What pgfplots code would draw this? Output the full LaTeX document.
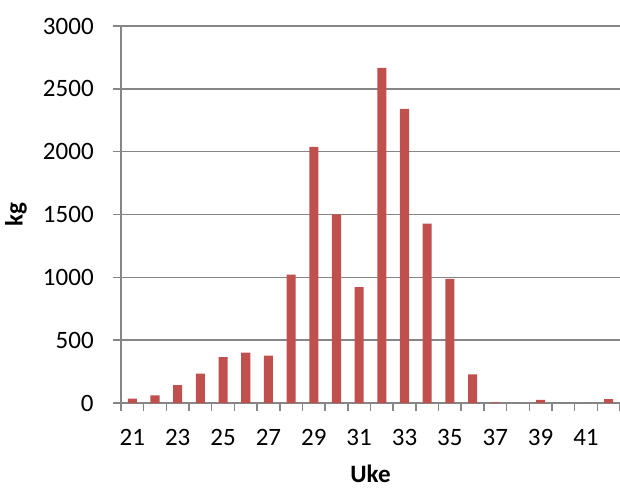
\documentclass[border=0pt]{standalone}
\usepackage{fontspec}
\setmainfont{Carlito}
\usepackage{pgfplots}
\pgfplotsset{compat=1.18}
\definecolor{barred}{HTML}{C0504D}
\definecolor{axgray}{HTML}{868686}

\begin{document}
\fontsize{12.5pt}{15pt}\selectfont
\begin{tikzpicture}
\begin{axis}[
  scale only axis, width=249.5pt, height=188.5pt,
  xmin=20.5, xmax=42.5, ymin=0, ymax=3000,
  axis lines*=left,
  axis line style={axgray, line width=0.75pt},
  ymajorgrids, grid style={axgray, line width=0.75pt},
  ybar, bar width=0.4,
  ytick={0,500,...,3000},
  xtick={20.5,21.5,...,42.5}, xticklabels={},
  extra x ticks={21,23,...,41},
  extra x tick style={major tick length=0pt, grid=none,
    xticklabel style={yshift=-9pt}},
  tick align=outside, major tick length=4pt,
  tick style={axgray, line width=0.75pt},
  /pgf/number format/assume math mode=true,
  /pgf/number format/1000 sep={},
  ticklabel style={font=\fontsize{12.5pt}{15pt}\selectfont},
  yticklabel style={xshift=-5.3pt},
  ylabel={\textbf{kg}}, xlabel={\textbf{Uke}},
  ylabel style={at={(axis description cs:-0.2104,0.5)}, anchor=center},
  xlabel style={at={(axis description cs:0.5,-0.188)}, anchor=center},
]
\addplot[fill=barred, draw=none] coordinates {
  (21,35) (22,61) (23,143) (24,234) (25,366) (26,401) (27,377)
  (28,1022) (29,2038) (30,1501) (31,922) (32,2666) (33,2341) (34,1427)
  (35,987) (36,228) (37,5) (38,0) (39,24) (40,0) (41,0) (42,30)
};
\end{axis}
\pgfresetboundingbox
\path[use as bounding box] ([xshift=-60.5pt,yshift=-42pt]current axis.south west) rectangle ([yshift=13pt]current axis.north east);
\end{tikzpicture}
\end{document}
